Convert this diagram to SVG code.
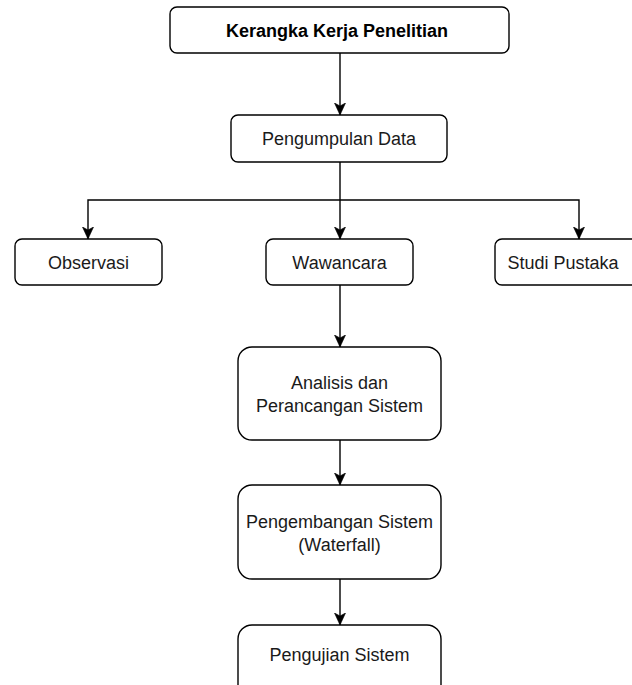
<svg xmlns="http://www.w3.org/2000/svg" width="632" height="685" viewBox="0 0 632 685">
<style>
.box{fill:#ffffff;stroke:#000000;stroke-width:1.4}
.lbl{font-family:"Liberation Sans",Arial,sans-serif;font-size:18px;fill:#1a1a1a;text-anchor:middle}
.bold{font-weight:bold;fill:#000000}
.con{fill:none;stroke:#000000;stroke-width:1.4}
.arr{marker-end:url(#ah)}
</style>
<defs>
<marker id="ah" markerWidth="14" markerHeight="14" viewBox="0 0 14 14" refX="12" refY="7" orient="auto" markerUnits="userSpaceOnUse">
<path d="M0,1.5 L12,7 L0,12.5 L3,7 Z" fill="#000000" stroke="#000000" stroke-width="0.6"/>
</marker>
</defs>
<rect width="632" height="685" fill="#ffffff"/>
<g id="connectors">
<line class="con arr" x1="340" y1="53" x2="340" y2="115"/>
<line class="con arr" x1="340" y1="162" x2="340" y2="239"/>
<polyline class="con arr" points="340,200 88,200 88,239"/>
<polyline class="con arr" points="340,200 579,200 579,239"/>
<line class="con arr" x1="340" y1="285" x2="340" y2="347"/>
<line class="con arr" x1="340" y1="440" x2="340" y2="485"/>
<line class="con arr" x1="340" y1="579" x2="340" y2="625"/>
</g>
<g id="node-kerangka">
<rect class="box" x="170" y="7" width="339" height="46" rx="7"/>
<text class="lbl bold" x="337" y="36.5">Kerangka Kerja Penelitian</text>
</g>
<g id="node-pengumpulan">
<rect class="box" x="231" y="115" width="216" height="47" rx="7"/>
<text class="lbl" x="339" y="145">Pengumpulan Data</text>
</g>
<g id="node-observasi">
<rect class="box" x="15" y="239" width="147" height="46" rx="7"/>
<text class="lbl" x="88.5" y="268.5">Observasi</text>
</g>
<g id="node-wawancara">
<rect class="box" x="266" y="239" width="147" height="46" rx="7"/>
<text class="lbl" x="339.5" y="268.5">Wawancara</text>
</g>
<g id="node-studi">
<rect class="box" x="495" y="239" width="147" height="46" rx="7"/>
<text class="lbl" x="563" y="268.5">Studi Pustaka</text>
</g>
<g id="node-analisis">
<rect class="box" x="238" y="347" width="203" height="93" rx="14"/>
<text class="lbl" x="339.5" y="389">Analisis dan</text>
<text class="lbl" x="339.5" y="412">Perancangan Sistem</text>
</g>
<g id="node-pengembangan">
<rect class="box" x="238" y="485" width="203" height="94" rx="14"/>
<text class="lbl" x="339.5" y="528">Pengembangan Sistem</text>
<text class="lbl" x="339.5" y="551">(Waterfall)</text>
</g>
<g id="node-pengujian">
<rect class="box" x="238" y="625" width="203" height="80" rx="14"/>
<text class="lbl" x="339.5" y="661">Pengujian Sistem</text>
</g>
</svg>
